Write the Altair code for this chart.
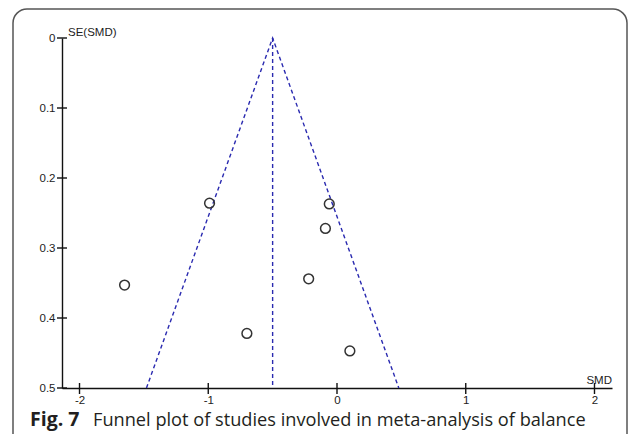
import altair as alt
import pandas as pd

# Study points (SMD, SE)
smd = [-0.99, -1.65, -0.22, -0.06, -0.09, -0.70, 0.10]
se = [0.236, 0.353, 0.344, 0.237, 0.272, 0.422, 0.447]

# Funnel outline (pseudo 95% limits around pooled estimate)
funnel_x = [-1.48, -0.5, 0.48]
funnel_y = [0.5, 0.0, 0.5]
funnel_order = [0, 1, 2]
center = [-0.5]

x_ticks = [-2, -1, 0, 1, 2]
y_ticks = [0, 0.1, 0.2, 0.3, 0.4, 0.5]

W, H = 550, 350
XDOM = [-2.136, 2.136]
YDOM = [0, 0.5]
BLUE = "#2a2ab0"

pts = pd.DataFrame({"smd": smd, "se": se})
fun = pd.DataFrame({"x": funnel_x, "y": funnel_y, "o": funnel_order})
cen = pd.DataFrame({"x": center, "y0": [0.0], "y1": [0.5]})
xt = pd.DataFrame({"v": x_ticks})
yt = pd.DataFrame({"v": y_ticks})

xs = alt.Scale(domain=XDOM, nice=False, zero=False)
ys = alt.Scale(domain=YDOM, reverse=True, nice=False, zero=False)

xa = alt.Axis(
    values=x_ticks, title=None, grid=False, ticks=False, domainColor="#111111",
    domainWidth=1.4, labelFont="Liberation Sans", labelFontSize=11.5, labelColor="#222222",
    labelPadding=6, labelExpr="datum.value < 0 ? '-' + abs(datum.value) : '' + datum.value")
ya = alt.Axis(
    values=y_ticks, title=None, grid=False, ticks=False, domainColor="#111111",
    domainWidth=1.4, labelFont="Liberation Sans", labelFontSize=11.5, labelColor="#222222",
    labelPadding=7, labelExpr="'' + datum.value")

box = alt.Chart(alt.Data(values=[{}])).mark_rect(
    fill=None, stroke="#555555", strokeWidth=1.5, cornerRadius=14
).encode(x=alt.value(-49), x2=alt.value(565), y=alt.value(-29), y2=alt.value(410))

points = alt.Chart(pts).mark_point(
    shape="circle", filled=False, size=95, stroke="#333333", strokeWidth=1.5, opacity=1
).encode(
    x=alt.X("smd:Q", scale=xs, axis=xa),
    y=alt.Y("se:Q", scale=ys, axis=ya),
)

funnel = alt.Chart(fun).mark_line(
    color=BLUE, strokeDash=[4, 3], strokeWidth=1.4
).encode(
    x=alt.X("x:Q", scale=xs, axis=xa),
    y=alt.Y("y:Q", scale=ys, axis=ya),
    order="o:O",
)

vline = alt.Chart(cen).mark_rule(
    color=BLUE, strokeDash=[4, 3], strokeWidth=1.4
).encode(
    x=alt.X("x:Q", scale=xs, axis=xa),
    y=alt.Y("y0:Q", scale=ys, axis=ya),
    y2="y1:Q",
)

yticks = alt.Chart(yt).mark_rule(color="#111111", strokeWidth=1.4).encode(
    y=alt.Y("v:Q", scale=ys, axis=ya), x=alt.value(-5), x2=alt.value(5)
)
xticks = alt.Chart(xt).mark_rule(color="#111111", strokeWidth=1.4).encode(
    x=alt.X("v:Q", scale=xs, axis=xa), y=alt.value(H - 5), y2=alt.value(H + 6)
)

ytitle = alt.Chart(alt.Data(values=[{"t": "SE(SMD)"}])).mark_text(
    align="left", baseline="alphabetic", font="Liberation Sans", fontSize=11.5, color="#222222"
).encode(text="t:N", x=alt.value(6), y=alt.value(-2))

xtitle = alt.Chart(alt.Data(values=[{"t": "SMD"}])).mark_text(
    align="right", baseline="alphabetic", font="Liberation Sans", fontSize=11.5, color="#222222"
).encode(text="t:N", x=alt.value(W), y=alt.value(H - 4))

cap1 = alt.Chart(alt.Data(values=[{"t": "Fig. 7"}])).mark_text(
    align="left", baseline="alphabetic", font="Open Sans", fontSize=19.5, fontWeight="bold", color="#231f20"
).encode(text="t:N", x=alt.value(-32), y=alt.value(388))

cap2 = alt.Chart(alt.Data(values=[{"t": "Funnel plot of studies involved in meta-analysis of balance"}])).mark_text(
    align="left", baseline="alphabetic", font="Open Sans", fontSize=18.2, color="#231f20"
).encode(text="t:N", x=alt.value(31), y=alt.value(388))

chart = alt.layer(
    box, funnel, vline, points, yticks, xticks, ytitle, xtitle, cap1, cap2
).properties(
    width=W, height=H,
    autosize=alt.AutoSizeParams(type="none"),
    padding={"left": 54, "top": 30, "right": 17, "bottom": 46},
).configure(background="white").configure_view(stroke=None)

chart.save("out.html", embed_options={"renderer": "svg", "actions": False})
